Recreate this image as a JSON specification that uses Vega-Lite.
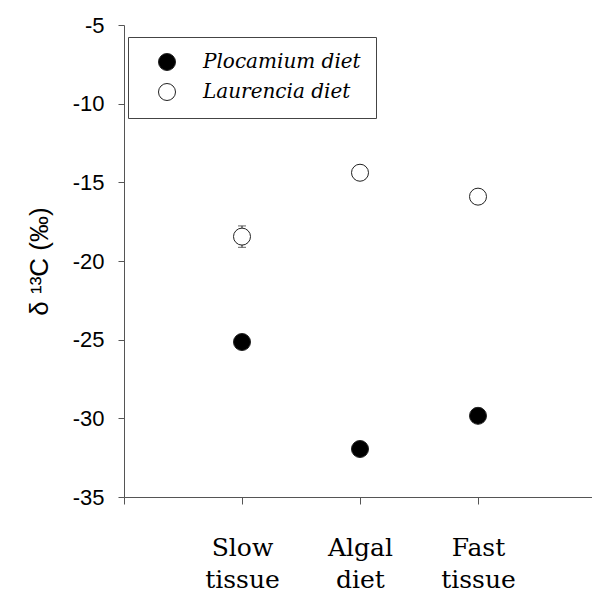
{
  "$schema": "https://vega.github.io/schema/vega-lite/v6.json",
  "width": 472,
  "height": 472,
  "autosize": {"type": "none"},
  "padding": {"left": 124, "top": 25, "right": 0, "bottom": 97},
  "background": "white",
  "config": {"view": {"stroke": null}},
  "data": {"values": [
    {"tissue": 1, "diet": "Plocamium", "d13C": -25.15, "err": 0.2},
    {"tissue": 2, "diet": "Plocamium", "d13C": -31.95, "err": 0.2},
    {"tissue": 3, "diet": "Plocamium", "d13C": -29.84, "err": 0.2},
    {"tissue": 1, "diet": "Laurencia", "d13C": -18.45, "err": 0.68},
    {"tissue": 2, "diet": "Laurencia", "d13C": -14.39, "err": 0.2},
    {"tissue": 3, "diet": "Laurencia", "d13C": -15.91, "err": 0.2}
  ]},
  "encoding": {
    "x": {
      "field": "tissue", "type": "quantitative",
      "scale": {"domain": [0, 4], "nice": false, "zero": false},
      "axis": {
        "title": null, "grid": false,
        "values": [0, 1, 2, 3],
        "labelExpr": "datum.value == 1 ? ['Slow', 'tissue'] : datum.value == 2 ? ['Algal', 'diet'] : datum.value == 3 ? ['Fast', 'tissue'] : ''",
        "labelFont": "DejaVu Serif", "labelFontSize": 25, "labelColor": "black",
        "labelLineHeight": 32, "labelPadding": 31,
        "tickSize": 7, "tickColor": "#555", "domainColor": "#555"
      }
    },
    "y": {
      "field": "d13C", "type": "quantitative",
      "scale": {"domain": [-35, -5], "nice": false, "zero": false},
      "axis": {
        "title": "δ ¹³C (‰)", "titleFont": "Liberation Sans", "titleFontSize": 26, "titleFontWeight": "normal", "titleColor": "black", "titlePadding": 20,
        "grid": false, "values": [-35, -30, -25, -20, -15, -10, -5],
        "labelExpr": "toString(datum.value)",
        "labelFont": "Liberation Sans", "labelFontSize": 22, "labelColor": "black", "labelPadding": 14,
        "tickSize": 6, "tickColor": "#555", "domainColor": "#555"
      }
    }
  },
  "layer": [
    {
      "mark": {"type": "errorbar", "ticks": {"size": 8, "color": "#222"}, "color": "#222"},
      "encoding": {
        "yError": {"field": "err"}
      }
    },
    {
      "mark": {"type": "point", "shape": "circle", "filled": true, "size": 289, "stroke": "#222", "strokeWidth": 1, "opacity": 1},
      "encoding": {
        "fill": {
          "field": "diet", "type": "nominal",
          "scale": {"domain": ["Plocamium", "Laurencia"], "range": ["black", "white"]},
          "legend": {
            "title": null, "orient": "none", "legendX": 4, "legendY": 12,
            "labelExpr": "datum.label + ' diet'",
            "labelFont": "DejaVu Serif", "labelFontSize": 20, "labelFontStyle": "italic", "labelColor": "black",
            "symbolType": "circle", "symbolSize": 289, "symbolStrokeColor": "#222", "symbolStrokeWidth": 1, "symbolOpacity": 1,
            "padding": 15, "symbolOffset": 14, "labelOffset": 26, "rowPadding": 8,
            "strokeColor": "#444", "fillColor": "white"
          }
        }
      }
    }
  ]
}
